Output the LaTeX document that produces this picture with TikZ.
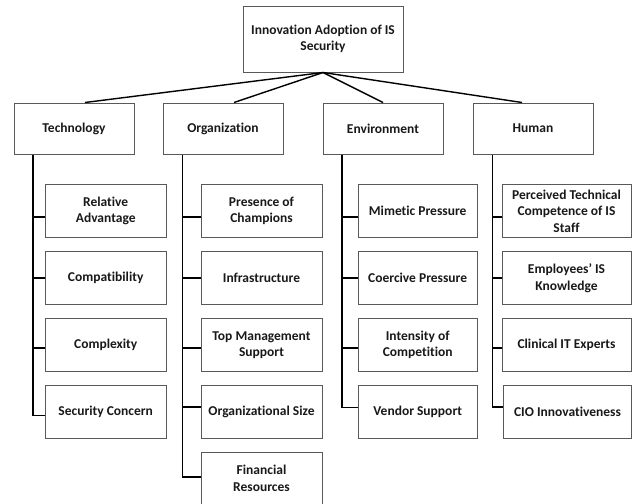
\documentclass[tikz,border=0pt]{standalone}
\usepackage{fontspec}
\setmainfont{Carlito}[Ligatures=NoCommon]
\begin{document}
\begin{tikzpicture}[x=1pt,y=-1pt,
  box/.style={draw=black!65, line width=1pt, fill=white, align=center, inner sep=0pt,
    font=\fontsize{13.5}{16.5}\selectfont\bfseries, text=black!90},
  topbox/.style={box, minimum width=160pt, minimum height=66pt},
  catbox/.style={box, minimum width=120pt, minimum height=51pt},
  kidT/.style={box, minimum width=121pt, minimum height=53pt},
  kidO/.style={box, minimum width=121pt, minimum height=53pt},
  kidE/.style={box, minimum width=119pt, minimum height=53pt},
  kidH/.style={box, minimum width=129pt, minimum height=53pt},
  conn/.style={draw=black, line width=1.4pt}]
\useasboundingbox (0,0) rectangle (633,504);

% top
\node[topbox] (top) at (323,39) {Innovation Adoption of IS\\Security};

% categories
\node[catbox] (tech) at (74,128.5) {Technology};
\node[catbox] (org)  at (223,128.5) {Organization};
\node[catbox] (env)  at (383,128.5) {Environment};
\node[catbox] (hum)  at (533,128.5) {Human};

% Technology children
\node[kidT] (ra)  at (105.7,211) {Relative\\Advantage};
\node[kidT] (cpt) at (105.7,278) {Compatibility};
\node[kidT] (cpx) at (105.7,345) {Complexity};
\node[kidT] (sc)  at (105.7,411.5) {Security Concern};

% Organization children
\node[kidO] (pc)  at (261.5,211) {Presence of\\Champions};
\node[kidO] (inf) at (261.5,278) {Infrastructure};
\node[kidO] (tms) at (261.5,345) {Top Management\\Support};
\node[kidO] (os)  at (261.5,411.5) {Organizational Size};
\node[kidO] (fr)  at (261.5,478.5) {Financial\\Resources};

% Environment children
\node[kidE] (mp)  at (417.7,211) {Mimetic Pressure};
\node[kidE] (cp)  at (417.7,278) {Coercive Pressure};
\node[kidE] (ic)  at (417.7,345) {Intensity of\\Competition};
\node[kidE] (vs)  at (417.7,411.5) {Vendor Support};

% Human children
\node[kidH] (ptc) at (566.5,211) {Perceived Technical\\Competence of IS\\Staff};
\node[kidH] (ek)  at (566.5,278) {Employees’ IS\\Knowledge};
\node[kidH] (cie) at (566.5,345) {Clinical IT Experts};
\node[box, minimum width=128pt, minimum height=53pt] (cio) at (567.5,411.5) {CIO Innovativeness};

% top connectors
\draw[conn] (top.south) -- ([xshift=11pt]tech.north);
\draw[conn] (top.south) -- ([xshift=11pt]org.north);
\draw[conn] (top.south) -- (env.north);
\draw[conn] (top.south) -- ([xshift=-11pt]hum.north);

% vertical spine coordinates
\coordinate (tv) at ([xshift=19.5pt]tech.south west);
\coordinate (ov) at ([xshift=20pt]org.south west);
\coordinate (ev) at ([xshift=19.5pt]env.south west);
\coordinate (hv) at ([xshift=20pt]hum.south west);

% Technology branch
\draw[conn] (tv) |- ([yshift=-4pt]sc.west);
\draw[conn] ([yshift=-6pt]ra.west) -- ([yshift=-6pt]ra.west -| tv);
\draw[conn] (cpt.west) -- (cpt.west -| tv);
\draw[conn] ([yshift=-3pt]cpx.west) -- ([yshift=-3pt]cpx.west -| tv);

% Organization branch
\draw[conn] (ov) |- ([yshift=1.5pt]fr.west);
\draw[conn] ([yshift=-6pt]pc.west) -- ([yshift=-6pt]pc.west -| ov);
\draw[conn] (inf.west) -- (inf.west -| ov);
\draw[conn] ([yshift=-3pt]tms.west) -- ([yshift=-3pt]tms.west -| ov);
\draw[conn] ([yshift=4.5pt]os.west) -- ([yshift=4.5pt]os.west -| ov);

% Environment branch
\draw[conn] (ev) |- ([yshift=4pt]vs.west);
\draw[conn] ([yshift=-6pt]mp.west) -- ([yshift=-6pt]mp.west -| ev);
\draw[conn] (cp.west) -- (cp.west -| ev);
\draw[conn] ([yshift=-3pt]ic.west) -- ([yshift=-3pt]ic.west -| ev);

% Human branch
\draw[conn] (hv) |- ([yshift=4.5pt]cio.west);
\draw[conn] ([yshift=-6pt]ptc.west) -- ([yshift=-6pt]ptc.west -| hv);
\draw[conn] (ek.west) -- (ek.west -| hv);
\draw[conn] ([yshift=-3pt]cie.west) -- ([yshift=-3pt]cie.west -| hv);
\end{tikzpicture}
\end{document}
